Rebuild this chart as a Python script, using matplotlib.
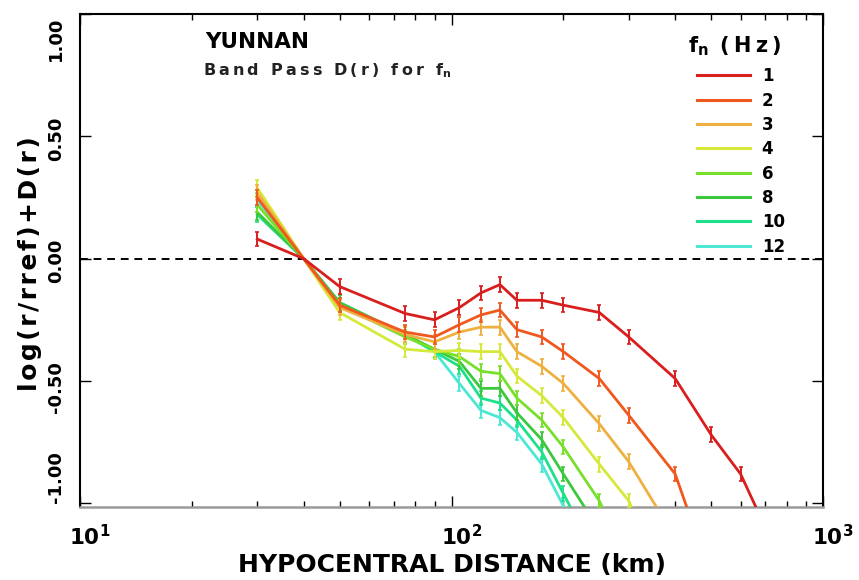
import numpy as np
import matplotlib
matplotlib.use("Agg")
import matplotlib.pyplot as plt
from matplotlib.lines import Line2D
from matplotlib.transforms import ScaledTranslation

plt.rcParams["font.family"] = ["DejaVu Sans"]
plt.rcParams["font.weight"] = "bold"
plt.rcParams["mathtext.fontset"] = "dejavusans"
plt.rcParams["mathtext.default"] = "bf"

# Hypocentral distances (km) shared by all frequency bands
distance = [30, 40, 50, 75, 90, 105, 120, 135, 150, 175, 200, 250, 300, 400, 500, 600, 700]

# log(r/rref) + D(r) for each band-pass centre frequency
d_1hz = [0.08, 0.0, -0.114, -0.224, -0.25, -0.20, -0.14, -0.106, -0.17, -0.17, -0.19, -0.22, -0.32, -0.49, -0.72, -0.88, -1.10]
d_2hz = [0.25, 0.0, -0.19, -0.30, -0.32, -0.27, -0.23, -0.21, -0.29, -0.32, -0.38, -0.49, -0.64, -0.88, -1.30]
d_3hz = [0.27, 0.0, -0.20, -0.31, -0.34, -0.30, -0.28, -0.28, -0.38, -0.44, -0.51, -0.675, -0.83, -1.14]
d_4hz = [0.29, 0.0, -0.22, -0.37, -0.38, -0.375, -0.38, -0.38, -0.48, -0.56, -0.65, -0.84, -0.99, -1.40]
d_6hz = [0.22, 0.0, -0.19, -0.32, -0.37, -0.40, -0.46, -0.47, -0.57, -0.66, -0.77, -0.99, -1.25]
d_8hz = [0.19, 0.0, -0.18, -0.31, -0.37, -0.42, -0.53, -0.53, -0.63, -0.74, -0.88, -1.11]
d_10hz = [0.18, 0.0, -0.18, -0.31, -0.38, -0.44, -0.57, -0.59, -0.66, -0.79, -0.96, -1.24]
d_12hz = [0.24, 0.0, -0.18, -0.31, -0.38, -0.51, -0.62, -0.65, -0.71, -0.84, -1.01, -1.30]

freq_labels = ["1", "2", "3", "4", "6", "8", "10", "12"]
series = [d_1hz, d_2hz, d_3hz, d_4hz, d_6hz, d_8hz, d_10hz, d_12hz]
colors = ["#d91e1e", "#f0581e", "#eeb040", "#d6e83a", "#78e02a", "#3cc83c", "#1ee08a", "#4ce8d4"]

# Uncertainty bars; the reference distance (40 km) is pinned at zero
err_size = 0.03
rref = 40

fig = plt.figure(figsize=(8.59, 5.80), dpi=100)
ax = fig.add_axes([80 / 859, 73 / 580, 743 / 859, 493 / 580])

for i in range(len(series) - 1, -1, -1):
    vals = np.array(series[i])
    r = np.array(distance[: len(vals)])
    yerr = np.where(r == rref, 0.0, err_size)
    ax.errorbar(r, vals, yerr=yerr, color=colors[i], lw=2.0, elinewidth=1.4,
                capsize=1.5, capthick=1.2, zorder=3 + (len(series) - i))

ax.axhline(0.0, color="black", lw=1.4, ls=(0, (4, 3)), zorder=2)

ax.set_xscale("log")
ax.set_xlim(10, 1000)
ax.set_ylim(-1.015, 1.0)

ax.set_xticks([10, 100, 1000])
ax.set_xticklabels([r"$10^1$", r"$10^2$", r"$10^3$"], fontsize=15.5)
ax.set_xticks([v * m for m in (10, 100) for v in range(2, 10)], minor=True)
ax.set_yticks([-1.0, -0.5, 0.0, 0.5, 1.0])
ax.set_yticklabels(["-1.00", "-0.50", "0.00", "0.50", "1.00"], fontsize=13)

ax.tick_params(which="both", direction="in", top=True, right=True)
ax.tick_params(which="major", length=8, width=1.0)
ax.tick_params(which="minor", length=4, width=1.0)
ax.tick_params(axis="x", which="major", pad=12)
ax.tick_params(axis="y", which="major", pad=11, labelrotation=90)

for lbl in ax.get_xticklabels():
    lbl.set_transform(lbl.get_transform() + ScaledTranslation(10 / 100, 0, fig.dpi_scale_trans))

ylabels = ax.get_yticklabels()
for lbl in ylabels:
    lbl.set_transform(lbl.get_transform() + ScaledTranslation(0, 13 / 100, fig.dpi_scale_trans))
ylabels[0].set_va("bottom")
ylabels[0].set_transform(ylabels[0].get_transform() + ScaledTranslation(0, -13 / 100, fig.dpi_scale_trans))
ylabels[-1].set_va("top")
ylabels[-1].set_transform(ylabels[-1].get_transform() + ScaledTranslation(0, -16 / 100, fig.dpi_scale_trans))

for side in ("left", "top", "right"):
    ax.spines[side].set_color("black")
    ax.spines[side].set_linewidth(1.5)
ax.spines["bottom"].set_color("#9a9a9a")
ax.spines["bottom"].set_linewidth(1.8)

hs = "\u200a"
ts = "\u2009"
ax.set_xlabel("HYPOCENTRAL DISTANCE (km)", fontsize=18, fontweight="bold")
ax.xaxis.set_label_coords(0.501, -0.093)
ax.set_ylabel(hs.join("log(r/rref)+D(r)"), fontsize=18, fontweight="bold",
              va="center", ha="center")
ax.yaxis.set_label_coords(-0.0673, 0.493)

ax.text(0.168, 0.931, "YUNNAN", transform=ax.transAxes, fontsize=15.5,
        fontweight="bold", va="baseline", ha="left")
ax.text(0.166, 0.886, ts.join("Band Pass D(r) for f") + "$_{n}$",
        transform=ax.transAxes, fontsize=11.5, fontweight="bold", va="center", ha="left",
        color="#222222")

handles = [Line2D([], [], color=c, lw=2.2) for c in colors]
leg = ax.legend(handles, freq_labels, loc="upper left", bbox_to_anchor=(0.830, 0.892),
                frameon=False, fontsize=12, handlelength=3.2, handletextpad=0.7,
                labelspacing=0.38, borderpad=0, borderaxespad=0)
for t in leg.get_texts():
    t.set_fontweight("bold")
ax.text(0.881, 0.935, "f$_{n}$" + ts + " " + ts.join("(Hz)"), transform=ax.transAxes,
        fontsize=15, fontweight="bold", ha="center", va="center")

fig.savefig("out.png", dpi=100)
